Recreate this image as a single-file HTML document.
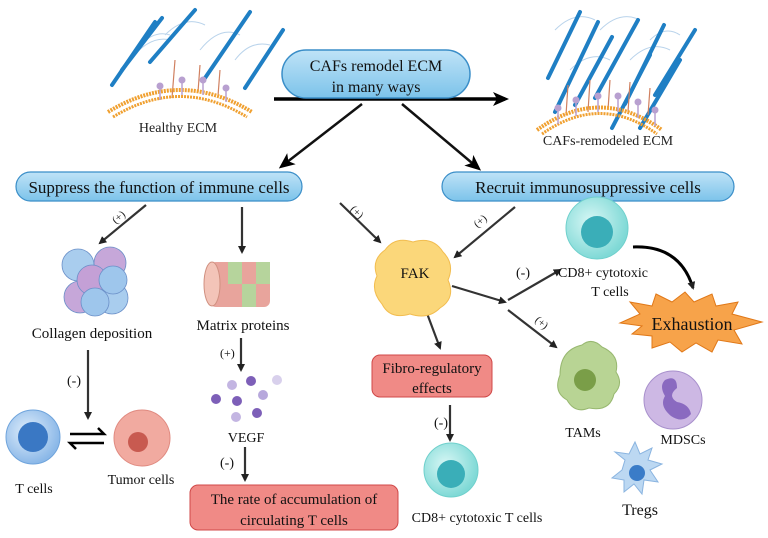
<!DOCTYPE html>
<html><head><meta charset="utf-8"><style>
html,body{margin:0;padding:0;background:#fff;}
svg{display:block;font-family:"Liberation Serif",serif;}
</style></head><body>
<svg width="768" height="538" viewBox="0 0 768 538" xmlns="http://www.w3.org/2000/svg">
<defs>
<marker id="ah" markerWidth="8" markerHeight="8" refX="6" refY="4" orient="auto" markerUnits="userSpaceOnUse"><path d="M0,0 L8,4 L0,8 z" fill="#222"/></marker>
<marker id="ahb" markerWidth="16" markerHeight="14" refX="12" refY="7" orient="auto" markerUnits="userSpaceOnUse"><path d="M0,0 L16,7 L0,14 L4,7 z" fill="#000"/></marker>
<linearGradient id="pill" x1="0" y1="0" x2="0" y2="1"><stop offset="0" stop-color="#bfe3f7"/><stop offset="1" stop-color="#7cc3ea"/></linearGradient>
<radialGradient id="cyan" cx="0.4" cy="0.4" r="0.6"><stop offset="0" stop-color="#d8f7f5"/><stop offset="1" stop-color="#7fd9d6"/></radialGradient>
<radialGradient id="blue" cx="0.4" cy="0.4" r="0.6"><stop offset="0" stop-color="#e0eefb"/><stop offset="1" stop-color="#8bb8e8"/></radialGradient>
</defs>

<!-- ECM left -->
<g stroke="#a8c8e6" stroke-width="1" fill="none" opacity="0.8">
<path d="M130,60 q20,-25 40,-20 M165,35 q20,-20 40,-10 M200,50 q20,-25 40,-15 M235,60 q15,-20 35,-15 M140,45 q15,-15 30,-10"/></g>
<g stroke="#1f7fc4" stroke-width="4" stroke-linecap="round">
<line x1="112" y1="85" x2="155" y2="22"/><line x1="122" y1="70" x2="162" y2="18"/>
<line x1="150" y1="62" x2="195" y2="10"/><line x1="205" y1="78" x2="250" y2="12"/>
<line x1="245" y1="88" x2="283" y2="30"/></g>
<g stroke="#d08060" stroke-width="1.2"><line x1="172" y1="98" x2="175" y2="60"/><line x1="198" y1="92" x2="200" y2="65"/><line x1="218" y1="96" x2="220" y2="70"/></g>
<path d="M108,112 Q180,68 252,112" fill="none" stroke="#f0a030" stroke-width="4" stroke-dasharray="2 1"/>
<path d="M113,117 Q180,76 247,117" fill="none" stroke="#f0a030" stroke-width="3" stroke-dasharray="2 1"/>
<g stroke="#b8a0d0" stroke-width="1.5"><line x1="160" y1="88" x2="160" y2="100"/><line x1="182" y1="82" x2="182" y2="95"/><line x1="203" y1="82" x2="203" y2="95"/><line x1="226" y1="90" x2="226" y2="102"/></g>
<g fill="#b8a0d0"><circle cx="160" cy="86" r="3.5"/><circle cx="182" cy="80" r="3.5"/><circle cx="203" cy="80" r="3.5"/><circle cx="226" cy="88" r="3.5"/></g>
<text x="178" y="132" font-size="14" text-anchor="middle" fill="#222">Healthy ECM</text>

<!-- ECM right -->
<g stroke="#a8c8e6" stroke-width="1" fill="none" opacity="0.8">
<path d="M555,30 q20,-20 40,-10 M600,30 q20,-20 40,-10 M630,60 q20,-20 40,-10 M570,70 q20,-20 40,-10 M650,40 q15,-15 30,-5"/></g>
<g stroke="#1f7fc4" stroke-width="4" stroke-linecap="round">
<line x1="548" y1="78" x2="580" y2="12"/><line x1="555" y1="112" x2="598" y2="22"/>
<line x1="575" y1="105" x2="612" y2="37"/><line x1="595" y1="98" x2="638" y2="20"/>
<line x1="612" y1="128" x2="650" y2="55"/><line x1="625" y1="104" x2="664" y2="25"/>
<line x1="640" y1="128" x2="680" y2="60"/><line x1="655" y1="95" x2="695" y2="30"/></g>
<g stroke="#d08060" stroke-width="1.2"><line x1="566" y1="115" x2="568" y2="85"/><line x1="588" y1="112" x2="590" y2="80"/><line x1="608" y1="110" x2="610" y2="80"/><line x1="628" y1="112" x2="630" y2="82"/><line x1="648" y1="115" x2="650" y2="88"/></g>
<path d="M537,130 Q600,85 662,130" fill="none" stroke="#f0a030" stroke-width="4" stroke-dasharray="2 1"/>
<path d="M542,134 Q600,93 657,134" fill="none" stroke="#f0a030" stroke-width="3" stroke-dasharray="2 1"/>
<g stroke="#b8a0d0" stroke-width="1.5"><line x1="558" y1="110" x2="558" y2="124"/><line x1="576" y1="102" x2="576" y2="116"/><line x1="598" y1="98" x2="598" y2="112"/><line x1="618" y1="98" x2="618" y2="112"/><line x1="638" y1="104" x2="638" y2="118"/><line x1="655" y1="112" x2="655" y2="126"/></g>
<g fill="#b8a0d0"><circle cx="558" cy="108" r="3.5"/><circle cx="576" cy="100" r="3.5"/><circle cx="598" cy="96" r="3.5"/><circle cx="618" cy="96" r="3.5"/><circle cx="638" cy="102" r="3.5"/><circle cx="655" cy="110" r="3.5"/></g>
<text x="608" y="145" font-size="14" text-anchor="middle" fill="#222">CAFs-remodeled ECM</text>

<!-- main pill -->
<line x1="274" y1="99" x2="505" y2="99" stroke="#000" stroke-width="3.5" marker-end="url(#ahb)"/>
<rect x="282" y="50" width="188" height="48" rx="24" fill="url(#pill)" stroke="#3a8ec8" stroke-width="1.5"/>
<text x="376" y="71" font-size="16" text-anchor="middle" fill="#111">CAFs remodel ECM</text>
<text x="376" y="92" font-size="16" text-anchor="middle" fill="#111">in many ways</text>
<line x1="362" y1="104" x2="282" y2="166" stroke="#111" stroke-width="2.5" marker-end="url(#ahb)"/>
<line x1="402" y1="104" x2="478" y2="168" stroke="#111" stroke-width="2.5" marker-end="url(#ahb)"/>

<rect x="16" y="172" width="286" height="29" rx="14.5" fill="url(#pill)" stroke="#3a8ec8" stroke-width="1.2"/>
<text x="159" y="193" font-size="17" text-anchor="middle" fill="#111">Suppress the function of immune cells</text>
<rect x="442" y="172" width="292" height="29" rx="14.5" fill="url(#pill)" stroke="#3a8ec8" stroke-width="1.2"/>
<text x="588" y="193" font-size="17" text-anchor="middle" fill="#111">Recruit immunosuppressive cells</text>

<!-- arrows lower -->
<g stroke="#333" stroke-width="2.2" fill="none" marker-end="url(#ah)">
<line x1="146" y1="205" x2="100" y2="243"/>
<line x1="242" y1="207" x2="242" y2="252"/>
<line x1="340" y1="203" x2="380" y2="242"/>
<line x1="515" y1="207" x2="455" y2="257"/>
<line x1="88" y1="350" x2="88" y2="418"/>
<line x1="241" y1="338" x2="241" y2="370"/>
<line x1="245" y1="447" x2="245" y2="480"/>
<line x1="452" y1="286" x2="505" y2="302"/>
<line x1="508" y1="300" x2="560" y2="270"/>
<line x1="508" y1="310" x2="556" y2="347"/>
<line x1="425" y1="308" x2="440" y2="348"/>
<line x1="450" y1="405" x2="450" y2="440"/>
</g>
<g font-size="11" fill="#222">
<text x="112" y="222" transform="rotate(-40 117 218)">(+)</text>
<text x="350" y="215" transform="rotate(45 356 212)">(+)</text>
<text x="474" y="225" transform="rotate(-40 480 222)">(+)</text>
<text x="535" y="325" transform="rotate(40 540 322)">(+)</text>
</g>
<g font-size="14" fill="#111">
<text x="67" y="385">(-)</text><text x="220" y="357" font-size="12">(+)</text>
<text x="220" y="467">(-)</text><text x="434" y="427">(-)</text><text x="516" y="277">(-)</text></g>
<!-- equilibrium -->
<path d="M70,434 H104 L98,428" fill="none" stroke="#000" stroke-width="2.5"/>
<path d="M104,443 H70 L76,449" fill="none" stroke="#000" stroke-width="2.5"/>

<!-- collagen -->
<g stroke="#6a8fc8" stroke-width="0.8">
<circle cx="78" cy="265" r="16" fill="#a9cdee"/><circle cx="110" cy="263" r="16" fill="#c6a7d9"/>
<circle cx="80" cy="297" r="16" fill="#c6a7d9"/><circle cx="112" cy="298" r="16" fill="#a9cdee"/>
<circle cx="92" cy="280" r="15" fill="#c4a0d6"/><circle cx="113" cy="280" r="14" fill="#9ec6ec"/>
<circle cx="95" cy="302" r="14" fill="#9ec6ec"/></g>
<text x="92" y="338" font-size="15" text-anchor="middle" fill="#111">Collagen deposition</text>

<!-- T cell & tumor -->
<circle cx="33" cy="437" r="27" fill="url(#blue)" stroke="#6fa4dc"/><circle cx="33" cy="437" r="15" fill="#3a78c4"/>
<text x="34" y="493" font-size="14" text-anchor="middle" fill="#111">T cells</text>
<circle cx="142" cy="438" r="28" fill="#f1aaa0" stroke="#e08a80"/><circle cx="138" cy="442" r="10" fill="#c85a50"/>
<text x="141" y="484" font-size="14" text-anchor="middle" fill="#111">Tumor cells</text>

<!-- matrix cylinder -->
<rect x="210" y="262" width="60" height="45" rx="6" fill="#e8a49c"/>
<rect x="228" y="262" width="14" height="22" fill="#b6d49c"/><rect x="256" y="262" width="14" height="22" fill="#b6d49c"/>
<rect x="242" y="284" width="14" height="23" fill="#b6d49c"/>
<ellipse cx="212" cy="284" rx="8" ry="22" fill="#f3c4b8" stroke="#d09080"/>
<text x="243" y="330" font-size="15" text-anchor="middle" fill="#111">Matrix proteins</text>
<!-- VEGF -->
<g><circle cx="232" cy="385" r="5" fill="#c3b5e2"/><circle cx="251" cy="381" r="5" fill="#7d5fb8"/><circle cx="277" cy="380" r="5" fill="#d8d0ec"/>
<circle cx="216" cy="399" r="5" fill="#7d5fb8"/><circle cx="237" cy="401" r="5" fill="#7d5fb8"/><circle cx="263" cy="395" r="5" fill="#b7a8dc"/>
<circle cx="236" cy="417" r="5" fill="#c3b5e2"/><circle cx="257" cy="413" r="5" fill="#7d5fb8"/></g>
<text x="246" y="442" font-size="14" text-anchor="middle" fill="#111">VEGF</text>
<rect x="190" y="485" width="208" height="45" rx="8" fill="#f08a86" stroke="#d04848"/>
<text x="294" y="504" font-size="15" text-anchor="middle" fill="#111">The rate of accumulation of</text>
<text x="294" y="525" font-size="15" text-anchor="middle" fill="#111">circulating T cells</text>

<!-- FAK -->
<path d="M385,250 q10,-14 28,-8 q20,-6 30,10 q12,12 5,28 q8,18 -8,28 q-12,12 -30,6 q-20,6 -28,-10 q-12,-14 -5,-28 q-6,-16 8,-26z" fill="#fbd77a" stroke="#f2bd50"/>
<text x="415" y="278" font-size="15" text-anchor="middle" fill="#111">FAK</text>
<rect x="372" y="355" width="120" height="42" rx="8" fill="#f08a86" stroke="#d04848"/>
<text x="432" y="373" font-size="15" text-anchor="middle" fill="#111">Fibro-regulatory</text>
<text x="432" y="393" font-size="15" text-anchor="middle" fill="#111">effects</text>

<!-- CD8 cells -->
<circle cx="597" cy="228" r="31" fill="url(#cyan)" stroke="#6fd0cc"/><circle cx="597" cy="232" r="16" fill="#3aaeb8"/>
<text x="603" y="277" font-size="14" text-anchor="middle" fill="#111">CD8+ cytotoxic</text>
<text x="610" y="296" font-size="14" text-anchor="middle" fill="#111">T cells</text>
<circle cx="451" cy="470" r="27" fill="url(#cyan)" stroke="#6fd0cc"/><circle cx="451" cy="474" r="14" fill="#3aaeb8"/>
<text x="477" y="522" font-size="14" text-anchor="middle" fill="#111">CD8+ cytotoxic T cells</text>
<path d="M633,247 Q680,245 693,288" fill="none" stroke="#000" stroke-width="3" marker-end="url(#ah)"/>

<!-- Exhaustion -->
<polygon points="620,323 640,314 630,302 652,306 656,294 672,302 685,292 694,302 712,294 716,306 738,302 732,314 762,322 734,330 742,344 718,340 712,352 696,343 682,352 670,342 652,348 652,336 632,334 642,326" fill="#f7a34a" stroke="#e07818"/>
<text x="692" y="330" font-size="18" text-anchor="middle" fill="#111">Exhaustion</text>

<!-- TAMs -->
<path d="M560,375 q0,-25 22,-30 q10,-8 20,2 q18,8 14,25 q8,12 -2,22 q-4,18 -25,14 q-14,6 -22,-8 q-14,-8 -7,-25z" fill="#b8d494" stroke="#98b870"/>
<circle cx="585" cy="380" r="11" fill="#7a9e48"/>
<text x="583" y="437" font-size="14" text-anchor="middle" fill="#111">TAMs</text>
<!-- MDSCs -->
<circle cx="673" cy="400" r="29" fill="#cdb8e4" stroke="#a890cc"/>
<path d="M665,380 q12,-6 12,8 q-10,8 0,14 q12,2 14,12 q-8,10 -20,2 q-12,-10 -6,-20 q-6,-10 0,-16z" fill="#8a6ac0"/>
<text x="683" y="444" font-size="14" text-anchor="middle" fill="#111">MDSCs</text>
<!-- Tregs -->
<path d="M625,460 l-10,-8 l14,2 l6,-12 l5,12 l12,-6 l-4,12 l14,4 l-12,6 l8,12 l-14,-2 l-2,14 l-8,-10 l-10,8 l0,-12 l-12,-2 l10,-8z" fill="#bcd8f2" stroke="#8ab4e0"/>
<circle cx="637" cy="473" r="8" fill="#3a7cc8"/>
<text x="640" y="515" font-size="16" text-anchor="middle" fill="#111">Tregs</text>
</svg>
</body></html>
